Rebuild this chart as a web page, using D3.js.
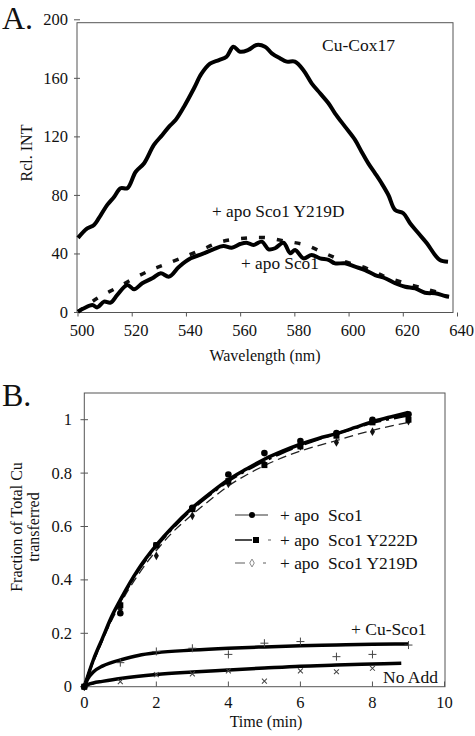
<!DOCTYPE html>
<html><head><meta charset="utf-8">
<script src="https://cdn.jsdelivr.net/npm/d3@7"></script>
<style>
html,body{margin:0;padding:0;background:#fff;}
svg text{font-family:"Liberation Serif","Times New Roman",serif;fill:#111;white-space:pre;}
</style></head>
<body><svg id="c" width="475" height="736"></svg>
<script>
// ---------- Panel A data ----------
const aTicksX = [500,520,540,560,580,600,620,640];
const aTicksY = [0,40,80,120,160,200];
const cox17Wl = [500,503.4,505.9,508.4,510.8,513.3,515.7,518.2,521.3,524.4,528,531.1,533.6,536,539.1,542.8,545.5,548.7,552,554.8,557.3,559.8,562.8,565.9,569,571.5,574.5,577,580,583.1,586.2,589.3,592.4,594.8,598.5,602.2,604.6,607.1,609.6,612,614.5,617,620,622.5,625.6,628.7,631.7,633.5,636.5];
const cox17Val = [51,57.5,59.8,66.6,73.5,79,84.9,84.9,96.2,102,114.5,121.3,127,131.5,140.6,153.2,163,170,172.5,174.8,181.6,178.2,179.4,182.8,181.6,177.1,173.7,171.4,171.4,165.7,156.6,149.8,143,136.1,127,117.9,109.9,101.9,95.1,88.3,80.3,70,67.8,61,54.1,47.3,39.3,35.9,34.7];
const apoWl = [500,502.2,505.3,507.1,509.6,512,514.5,518.2,520.7,523.7,527.4,530.5,533.6,537.3,541.6,545.9,549.9,553.6,556.7,559.8,562.2,564.7,567.8,570.3,572.7,575.8,578.3,580.1,583.2,586.2,589.3,592.4,594.8,598.5,602.2,605.9,609.6,613.3,617,620.7,624.4,628,631.7,635.4,636.9];
const apoVal = [0.5,2.9,5.1,3.5,7.4,6.7,12,18.8,15.9,20,23.4,26.8,24.5,31.3,37,40,43.2,45.4,44.3,46.8,47.7,46.1,48.4,43.2,43.9,47.7,40.5,42.7,37,39.3,37,36,33.6,33.6,31.3,29,25.6,23.4,20,17.6,16.5,13.5,13.1,11.3,10.8];
const y219Wl = [500,507.1,513.9,520.7,526.8,531.7,537.9,545.3,553,561.3,568.7,576.7,584,591,598.5,606.5,613.3,620.7,628.7,636];
const y219Val = [0.5,9.7,16.5,23.4,29,32.5,37,42.7,48.4,50.7,51.2,48.7,46.1,40.5,34.7,30.2,24.5,20,15.9,12];

// ---------- Panel B data ----------
const bTicksX = [0,2,4,6,8,10];
const bTicksY = [0,0.2,0.4,0.6,0.8,1];
const timeFit = [0,0.25,0.5,0.75,1,1.5,2,2.5,3,3.5,4,4.5,5,5.5,6,6.5,7,7.5,8,8.5,9];
const sco1Fit = [0,0.1,0.18,0.26,0.325,0.44,0.53,0.605,0.67,0.725,0.775,0.815,0.852,0.882,0.908,0.93,0.948,0.97,0.993,1.01,1.027];
const y222dFit = [0,0.098,0.177,0.255,0.32,0.435,0.525,0.6,0.665,0.72,0.77,0.81,0.845,0.876,0.903,0.927,0.948,0.968,0.988,1.003,1.016];
const y219dFit = [0,0.09,0.17,0.245,0.31,0.42,0.51,0.585,0.645,0.70,0.752,0.793,0.828,0.858,0.883,0.903,0.922,0.942,0.96,0.976,0.99];
const timeCu = [0,0.1,0.25,0.5,0.75,1,1.5,2,3,4,5,6,7,8,9];
const cuSco1Fit = [0,0.03,0.055,0.077,0.09,0.1,0.117,0.127,0.137,0.144,0.149,0.153,0.156,0.159,0.16];
const timeNo = [0,0.1,0.25,0.5,1,2,3,4,5,6,7,8,8.8];
const noAddFit = [0,0.008,0.014,0.02,0.031,0.046,0.055,0.0625,0.07,0.077,0.081,0.085,0.088];
const timePts = [0,1,2,3,4,5,6,7,8,9];
const sco1Pts = [0,0.275,0.53,0.67,0.795,0.875,0.92,0.95,1.0,1.02];
const y222dPts = [0,0.305,0.53,0.665,0.77,0.83,0.9,0.94,0.99,1.0];
const y219dPts = [0,0.29,0.49,0.64,0.76,0.835,0.9,0.915,0.955,0.995];
const cuSco1Pts = [0,0.09,0.132,0.144,0.121,0.163,0.169,0.1125,0.121,0.156];
const noAddPts = [0,0.019,0.045,0.048,0.059,0.021,0.059,0.056,0.069];
const legendLabels = ["+ apo  Sco1","+ apo  Sco1 Y222D","+ apo  Sco1 Y219D"];

const svg = d3.select("#c");
const zip = (xs, ys) => xs.map((x,i)=>[x, ys[i]]);

// ================= Panel A =================
const ax = d3.scaleLinear().domain([500,640]).range([78,457.5]);
const ay = d3.scaleLinear().domain([0,200]).range([312.5,19.8]);
const gA = svg.append("g");
gA.append("rect").attr("x",77).attr("y",22.7).attr("width",376).attr("height",289.8)
  .attr("fill","none").attr("stroke","#555").attr("stroke-width",1);
gA.selectAll(".axt").data(aTicksX).join("line")
  .attr("x1",d=>ax(d)).attr("x2",d=>ax(d)).attr("y1",312.5).attr("y2",316.5)
  .attr("stroke","#555");
gA.selectAll(".axl").data(aTicksX).join("text")
  .attr("x",d=>ax(d)+4).attr("y",336).attr("text-anchor","middle")
  .attr("font-size",16.5).text(d=>d);
gA.selectAll(".ayt").data(aTicksY).join("line")
  .attr("x1",74).attr("x2",80).attr("y1",d=>ay(d)).attr("y2",d=>ay(d))
  .attr("stroke","#555");
gA.selectAll(".ayl").data(aTicksY).join("text")
  .attr("x",68).attr("y",d=>ay(d)+5.5).attr("text-anchor","end")
  .attr("font-size",16.5).text(d=>d);
gA.append("text").attr("transform","translate(32,153) rotate(-90)")
  .attr("text-anchor","middle").attr("font-size",16).text("Rcl. INT");
gA.append("text").attr("x",265).attr("y",361).attr("text-anchor","middle")
  .attr("font-size",16).text("Wavelength (nm)");
gA.append("text").attr("x",2).attr("y",28.5).attr("font-size",32).text("A.");

const lineA = d3.line().x(d=>ax(d[0])).y(d=>ay(d[1])).curve(d3.curveCatmullRom);
gA.append("path").attr("d",lineA(zip(cox17Wl,cox17Val)))
  .attr("fill","none").attr("stroke","#000").attr("stroke-width",4).attr("stroke-linejoin","round");
gA.append("path").attr("d",lineA(zip(y219Wl,y219Val)))
  .attr("fill","none").attr("stroke","#111").attr("stroke-width",3.5).attr("stroke-dasharray","6,12");
gA.append("path").attr("d",lineA(zip(apoWl,apoVal)))
  .attr("fill","none").attr("stroke","#000").attr("stroke-width",4).attr("stroke-linejoin","round");
gA.append("text").attr("x",322).attr("y",51).attr("font-size",17.5).text("Cu-Cox17");
gA.append("text").attr("x",212).attr("y",217).attr("font-size",17.3).text("+ apo Sco1 Y219D");
gA.append("text").attr("x",241).attr("y",269).attr("font-size",17.3).text("+ apo Sco1");

// ================= Panel B =================
const bx = d3.scaleLinear().domain([0,10]).range([84.3,444.5]);
const by = d3.scaleLinear().domain([0,1.1]).range([686.7,393]);
const gB = svg.append("g");
gB.append("rect").attr("x",84.3).attr("y",393).attr("width",360.7).attr("height",293.7)
  .attr("fill","none").attr("stroke","#555").attr("stroke-width",1);
gB.selectAll(".bxt").data(bTicksX).join("line")
  .attr("x1",d=>bx(d)).attr("x2",d=>bx(d)).attr("y1",686.7).attr("y2",681.5)
  .attr("stroke","#555");
gB.selectAll(".bxl").data(bTicksX).join("text")
  .attr("x",d=>bx(d)).attr("y",707.5).attr("text-anchor","middle")
  .attr("font-size",16.5).text(d=>d);
gB.selectAll(".byt").data(bTicksY).join("line")
  .attr("x1",80.5).attr("x2",88).attr("y1",d=>by(d)).attr("y2",d=>by(d))
  .attr("stroke","#555");
gB.selectAll(".byl").data(bTicksY).join("text")
  .attr("x",72).attr("y",d=>by(d)+5.5).attr("text-anchor","end")
  .attr("font-size",16.5).text(d=>d);
gB.append("text").attr("transform","translate(22,527) rotate(-90)")
  .attr("text-anchor","middle").attr("font-size",16).text("Fraction of Total Cu");
gB.append("text").attr("transform","translate(39,527) rotate(-90)")
  .attr("text-anchor","middle").attr("font-size",16).text("transferred");
gB.append("text").attr("x",266).attr("y",727).attr("text-anchor","middle")
  .attr("font-size",16).text("Time (min)");
gB.append("text").attr("x",2).attr("y",406).attr("font-size",32).text("B.");

const lineB = d3.line().x(d=>bx(d[0])).y(d=>by(d[1])).curve(d3.curveMonotoneX);
gB.append("path").attr("d",lineB(zip(timeNo,noAddFit)))
  .attr("fill","none").attr("stroke","#000").attr("stroke-width",3.5);
gB.append("path").attr("d",lineB(zip(timeCu,cuSco1Fit)))
  .attr("fill","none").attr("stroke","#000").attr("stroke-width",3.5);
gB.append("path").attr("d",lineB(zip(timeFit,y219dFit)))
  .attr("fill","none").attr("stroke","#222").attr("stroke-width",1.3).attr("stroke-dasharray","9,5");
gB.append("path").attr("d",lineB(zip(timeFit,y222dFit)))
  .attr("fill","none").attr("stroke","#000").attr("stroke-width",2.5).attr("stroke-dasharray","18,5,3,5");
gB.append("path").attr("d",lineB(zip(timeFit,sco1Fit)))
  .attr("fill","none").attr("stroke","#000").attr("stroke-width",3.5);

const cross = (g, pts, size, rot) => {
  g.selectAll(null).data(pts).join("path")
   .attr("transform",d=>`translate(${bx(d[0])},${by(d[1])}) rotate(${rot})`)
   .attr("d",`M${-size},0H${size}M0,${-size}V${size}`)
   .attr("stroke","#444").attr("stroke-width",1).attr("fill","none");
};
cross(gB, zip(timePts, cuSco1Pts), 4, 0);
cross(gB, zip(timePts.slice(0,noAddPts.length), noAddPts), 3.5, 45);
gB.selectAll(null).data(zip(timePts,y219dPts)).join("path")
  .attr("transform",d=>`translate(${bx(d[0])},${by(d[1])})`)
  .attr("d",d3.symbol(d3.symbolDiamond,22)()).attr("fill","#111");
gB.selectAll(null).data(zip(timePts,y222dPts)).join("rect")
  .attr("x",d=>bx(d[0])-3).attr("y",d=>by(d[1])-3).attr("width",6).attr("height",6).attr("fill","#000");
gB.selectAll(null).data(zip(timePts,sco1Pts)).join("circle")
  .attr("cx",d=>bx(d[0])).attr("cy",d=>by(d[1])).attr("r",3.3).attr("fill","#000");

// legend
const ly = [515,540,563];
const lg = gB.append("g");
lg.append("line").attr("x1",235).attr("x2",268).attr("y1",ly[0]).attr("y2",ly[0]).attr("stroke","#777").attr("stroke-width",1.5);
lg.append("circle").attr("cx",252).attr("cy",ly[0]).attr("r",3).attr("fill","#000");
lg.append("line").attr("x1",235).attr("x2",252).attr("y1",ly[1]).attr("y2",ly[1]).attr("stroke","#111").attr("stroke-width",1.5);
lg.append("rect").attr("x",253).attr("y",ly[1]-3).attr("width",6).attr("height",6).attr("fill","#000");
lg.append("line").attr("x1",268).attr("x2",271).attr("y1",ly[1]).attr("y2",ly[1]).attr("stroke","#777").attr("stroke-width",1.2);
lg.append("line").attr("x1",235).attr("x2",245).attr("y1",ly[2]).attr("y2",ly[2]).attr("stroke","#777").attr("stroke-width",1.2);
lg.append("path").attr("transform",`translate(252,${ly[2]})`).attr("d",d3.symbol(d3.symbolDiamond,18)())
  .attr("fill","#fff").attr("stroke","#888").attr("stroke-width",1);
lg.append("line").attr("x1",263).attr("x2",266).attr("y1",ly[2]).attr("y2",ly[2]).attr("stroke","#777").attr("stroke-width",1.2);
lg.selectAll(null).data(legendLabels).join("text")
  .attr("x",280).attr("y",(d,i)=>ly[i]+5.5).attr("font-size",17.4).text(d=>d);

gB.append("text").attr("x",351).attr("y",635).attr("font-size",17.5).text("+ Cu-Sco1");
gB.append("text").attr("x",383).attr("y",682.5).attr("font-size",17.5).text("No Add");
</script></body></html>
